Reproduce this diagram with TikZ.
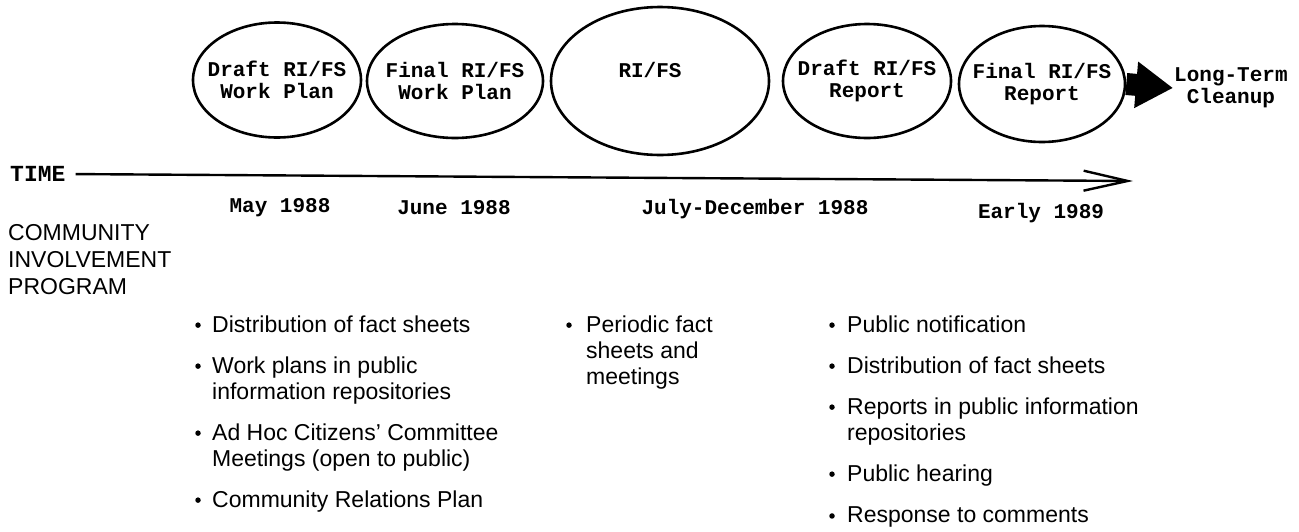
\documentclass[tikz,border=0pt]{standalone}
\usepackage{fontspec}
\setmainfont{Liberation Sans}
\setmonofont{Liberation Mono}
\usetikzlibrary{positioning, shapes.geometric, arrows.meta}

\begin{document}
\begin{tikzpicture}[x=1pt,y=-1pt,>={Straight Barb[length=44pt,width=20pt]},
  phase/.style={ellipse, draw, line width=2.6pt, inner sep=0pt},
  tt/.style={font=\ttfamily\bfseries\fontsize{21}{22}\selectfont, align=center, inner sep=0pt},
  item/.style={anchor=base west, align=left, inner sep=0pt, font=\fontsize{23}{26}\selectfont},
  dot/.style={circle, fill, inner sep=0pt, minimum size=5.5pt}]

\useasboundingbox (0,0) rectangle (1299,531);

% phases
\node[phase, minimum width=168pt, minimum height=115pt] (e1) at (277,80) {};
\node[phase, minimum width=176pt, minimum height=114pt] (e2) at (455,81) {};
\node[phase, minimum width=218pt, minimum height=148pt] (e3) at (660,81) {};
\node[phase, minimum width=168pt, minimum height=114pt] (e4) at (867,81) {};
\node[phase, minimum width=166pt, minimum height=116pt] (e5) at (1042,84) {};

\node[tt] (t1) at (e1) {Draft RI/FS\\Work Plan};
\node[tt] (t2) at (e2) {Final RI/FS\\Work Plan};
\node[tt] (t3) at (650,70) {RI/FS};
\node[tt] (t4) at (e4) {Draft RI/FS\\Report};
\node[tt] (t5) at (e5) {Final RI/FS\\Report};

\node[tt, anchor=west, inner sep=1pt] (lt) at (1173,88) {Long-Term\\Cleanup};
\draw[line width=22pt, -{Triangle[length=37pt,width=44pt]}] (e5.east) -- (lt.west);

% time axis
\node[tt, anchor=west, font=\ttfamily\bfseries\fontsize{23}{24}\selectfont] (time) at (10,174) {TIME};
\coordinate (tend) at (1133,181);
\draw[line width=2.4pt, ->, shorten <=10pt] (time.east) -- (tend);

\node[tt] (d1) at (280,208) {May 1988};
\node[tt] (d2) at (454,208) {June 1988};
\node[tt] (d3) at (755,209) {July-December 1988};
\node[tt] (d4) at (1041,213) {Early 1989};

% community involvement (base = last line)
\node[item, font=\fontsize{23}{27}\selectfont] (cip) at (8,294) {COMMUNITY\\INVOLVEMENT\\PROGRAM};

\foreach \y/\t [count=\i] in {332/{Distribution of fact sheets},
    399/{Work plans in public\\information repositories},
    466/{Ad Hoc Citizens' Committee\\Meetings (open to public)},
    507/{Community Relations Plan}} {
  \node[item] (c1-\i) at (212,\y) {\t};
  \node[dot, yshift=-10pt] (b1-\i) at (198,0|-c1-\i.north) {};
}

\node[item] (c2-1) at (586,384) {Periodic fact\\sheets and\\meetings};
\node[dot, yshift=-10pt] (b2-1) at (569,0|-c2-1.north) {};

\foreach \y/\t [count=\i] in {332/{Public notification},
    373/{Distribution of fact sheets},
    440/{Reports in public information\\repositories},
    481/{Public hearing},
    522/{Response to comments}} {
  \node[item] (c3-\i) at (847,\y) {\t};
  \node[dot, yshift=-10pt] (b3-\i) at (832,0|-c3-\i.north) {};
}

\end{tikzpicture}
\end{document}
